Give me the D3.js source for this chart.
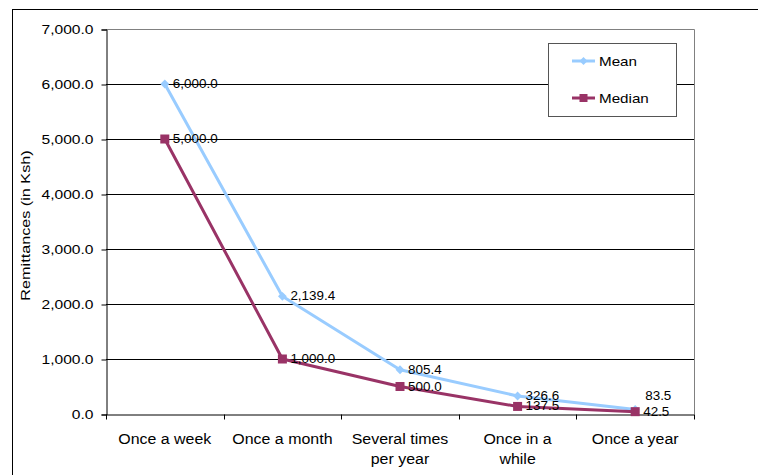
<!DOCTYPE html>
<html><head><meta charset="utf-8">
<script src="https://cdn.jsdelivr.net/npm/d3@7"></script>
<style>body{margin:0;background:#fff}svg{display:block;font-family:Arial,"Liberation Sans",sans-serif}</style>
</head><body>
<script>
const categories = ["Once a week", "Once a month", "Several times per year", "Once in a while", "Once a year"];
const categoryLines = [["Once a week"], ["Once a month"], ["Several times", "per year"], ["Once in a", "while"], ["Once a year"]];
const meanValues = [6000.0, 2139.4, 805.4, 326.6, 83.5];
const medianValues = [5000.0, 1000.0, 500.0, 137.5, 42.5];
const yTicks = [0, 1000, 2000, 3000, 4000, 5000, 6000, 7000];
const seriesNames = ["Mean", "Median"];
const yTitle = "Remittances (in Ksh)";

const W = 758, H = 475;
const m = {left: 106, right: 64, top: 29, bottom: 61};
const svg = d3.select("body").append("svg").attr("width", W).attr("height", H);

svg.append("rect").attr("x", 12.5).attr("y", 9.5).attr("width", 800).attr("height", 600)
  .attr("fill", "none").attr("stroke", "#000");

const x = d3.scaleBand().domain(categories).range([m.left, W - m.right]);
const y = d3.scaleLinear().domain([0, 7000]).range([H - m.bottom, m.top]);
const SX = 1.2;

// gridlines
svg.append("g").selectAll("line").data(yTicks.filter(d => d > 0 && d < 7000)).join("line")
  .attr("x1", m.left).attr("x2", W - m.right)
  .attr("y1", d => Math.round(y(d)) + 0.5).attr("y2", d => Math.round(y(d)) + 0.5)
  .attr("stroke", "#000").attr("stroke-width", 1);
// plot border top/right
svg.append("path")
  .attr("d", `M${m.left},${Math.round(y(7000)) + 0.5}H${W - m.right + 0.5}V${Math.round(y(0))}`)
  .attr("fill", "none").attr("stroke", "#808080");

// y axis
const yAxis = svg.append("g").attr("transform", `translate(${m.left + 0.5},0.5)`)
  .call(d3.axisLeft(y).tickValues(yTicks).tickFormat(d3.format(",.1f")).tickSizeOuter(0).tickSize(5).tickPadding(8));
yAxis.selectAll("path, line").attr("stroke", "#000");
yAxis.selectAll("text").attr("font-size", 13).attr("fill", "#000").attr("font-family", "Arial, 'Liberation Sans', sans-serif")
  .attr("x", -13 / SX).attr("transform", `scale(${SX},1)`);

// x axis
const xAxis = svg.append("g").attr("transform", `translate(0,${Math.round(y(0)) + 0.5})`)
  .call(d3.axisBottom(x).tickSize(0).tickFormat(""));
xAxis.select(".domain").attr("stroke", "#000");
const bounds = categories.map(c => x(c)).concat([x.range()[1]]);
xAxis.selectAll(".bt").data(bounds).join("line").attr("class", "bt")
  .attr("x1", d => Math.round(d) + 0.5).attr("x2", d => Math.round(d) + 0.5)
  .attr("y1", 0).attr("y2", 5).attr("stroke", "#000");
categories.forEach((c, i) => {
  const t = svg.append("text").attr("text-anchor", "middle").attr("font-size", 15.5).attr("fill", "#000")
    .attr("transform", `translate(${x(c) + x.bandwidth() / 2},444) scale(1.03,1)`);
  categoryLines[i].forEach((ln, j) => t.append("tspan").attr("x", 0).attr("y", j * 20).text(ln));
});

// y title
svg.append("text").attr("text-anchor", "middle").attr("font-size", 13.5).attr("fill", "#000")
  .attr("transform", `translate(30,${(y(0) + y(7000)) / 2 + 4}) rotate(-90) scale(${SX},1)`)
  .text(yTitle);

const cx = c => x(c) + x.bandwidth() / 2;
const line = d3.line().x((d, i) => cx(categories[i])).y(d => y(d));
const colors = ["#99CCFF", "#993366"];
const data = [meanValues, medianValues];

data.forEach((vals, s) => {
  svg.append("path").datum(vals).attr("d", line).attr("fill", "none")
    .attr("stroke", colors[s]).attr("stroke-width", 3).attr("stroke-linejoin", "round");
});
// markers
svg.append("g").selectAll("path").data(meanValues).join("path")
  .attr("d", d3.symbol(d3.symbolDiamond2, 50))
  .attr("transform", (d, i) => `translate(${cx(categories[i])},${y(d)})`).attr("fill", colors[0]);
svg.append("g").selectAll("rect").data(medianValues).join("rect")
  .attr("x", (d, i) => cx(categories[i]) - 4.5).attr("y", d => y(d) - 4.5)
  .attr("width", 9).attr("height", 9).attr("fill", colors[1]);

// labels
const fmt = d3.format(",.1f");
data.forEach((vals, s) => {
  vals.forEach((v, i) => {
    let lx = cx(categories[i]) + 8, ly = y(v) + 4;
    if (s === 0 && Math.abs(y(v) - y(medianValues[i])) < 6) { ly = y(v) - 9; lx = cx(categories[i]) + 10; }
    svg.append("text").attr("font-size", 12).attr("fill", "#000")
      .attr("transform", `translate(${lx},${ly}) scale(1.12,1)`).text(fmt(v));
  });
});

// legend
const lg = svg.append("g");
lg.append("rect").attr("x", 548.5).attr("y", 43.5).attr("width", 128).attr("height", 73)
  .attr("fill", "#fff").attr("stroke", "#555");
[61, 98].forEach((ly, s) => {
  lg.append("line").attr("x1", 572).attr("x2", 595).attr("y1", ly).attr("y2", ly)
    .attr("stroke", colors[s]).attr("stroke-width", 3);
  if (s === 0) lg.append("path").attr("d", d3.symbol(d3.symbolDiamond2, 40)).attr("transform", `translate(583.5,${ly})`).attr("fill", colors[0]);
  else lg.append("rect").attr("x", 579.5).attr("y", ly - 4).attr("width", 8).attr("height", 8).attr("fill", colors[1]);
  lg.append("text").attr("font-size", 13).attr("fill", "#000")
    .attr("transform", `translate(599,${ly + 5}) scale(1.17,1)`).text(seriesNames[s]);
});
</script>
</body></html>
